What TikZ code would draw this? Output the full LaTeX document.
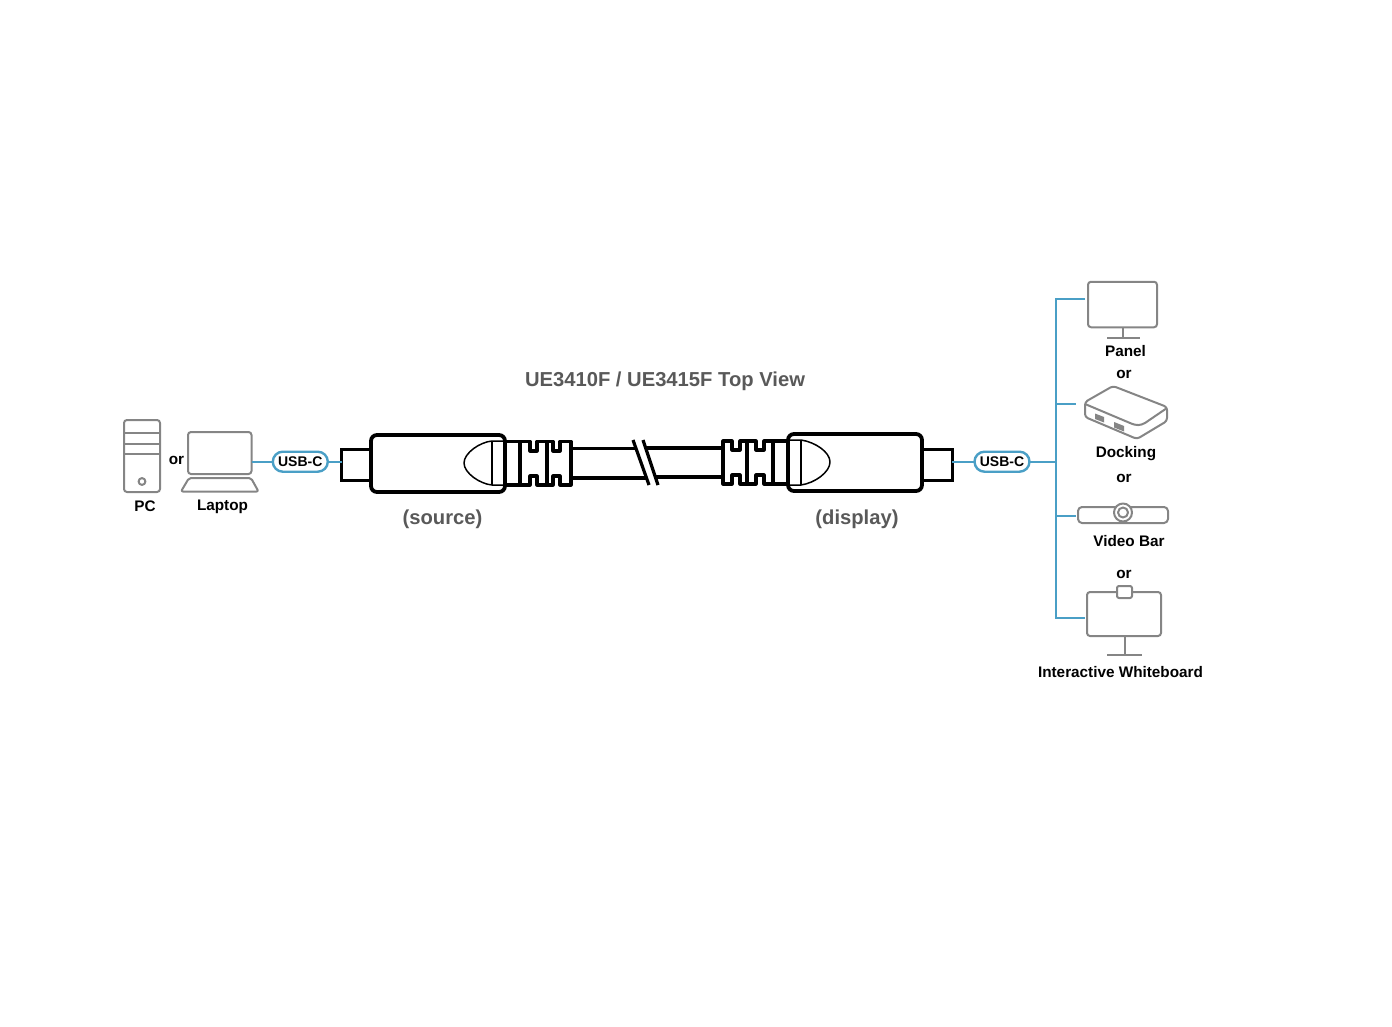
\documentclass[tikz,border=0pt]{standalone}
\usepackage{fontspec}
\setmainfont{Liberation Sans}
\definecolor{linkblue}{HTML}{4A9FC6}
\definecolor{devgray}{HTML}{858585}
\definecolor{capgray}{HTML}{595959}
\tikzset{
  link/.style={draw=linkblue,line width=2.4pt},
  dev/.style={draw=devgray,line width=2pt,line join=round},
  devbox/.style={dev,rounded corners=3pt,inner sep=0pt,outer sep=0pt},
  pill/.style={draw=linkblue,line width=2.4pt,fill=white,rounded corners=10pt,minimum width=55pt,minimum height=20pt,inner sep=0pt,outer sep=0pt,font=\bfseries\fontsize{14}{15}\selectfont},
  thick line/.style={draw=black,line width=3.2pt,line join=round},
  cablebody/.style={draw=black,line width=3.8pt,fill=white,rounded corners=6pt,inner sep=0pt,outer sep=0pt},
  plugbody/.style={draw=black,line width=3pt,fill=white,inner sep=0pt,outer sep=0pt},
  thin line/.style={draw=black,line width=1.5pt,line join=round},
  lab/.style={font=\bfseries\fontsize{15.3}{17}\selectfont,inner sep=0pt,text=black},
  captext/.style={font=\bfseries\fontsize{20.2}{22}\selectfont,inner sep=0pt,text=capgray},
}
\begin{document}
\begin{tikzpicture}[x=1pt,y=-1pt]
\useasboundingbox (0,0) rectangle (1392,1027);
% PC
\node[devbox,minimum width=36pt,minimum height=72pt] (pc) at (142,456) {};
\draw[dev] (124,433)--(160,433) (124,443.5)--(160,443.5) (124,454)--(160,454);
\draw[dev] (142,481.5) circle (3.4pt);
% Laptop
\node[devbox,minimum width=63.5pt,minimum height=42pt] (laptop) at (219.75,453) {};
\draw[dev,rounded corners=2pt] (189,478)--(251,478)--(258.5,491.5)--(181,491.5)--cycle;
% Pills
\node[pill] (usbL) at (300.3,461.7) {USB-C};
\node[pill] (usbR) at (1002,461.7) {USB-C};
% Plugs
\node[plugbody,minimum width=30pt,minimum height=31pt] (plugL) at (356.5,464.5) {};
\node[plugbody,minimum width=30pt,minimum height=31pt] (plugR) at (937,464.5) {};
\draw[link] (laptop.east |- usbL.west) -- (usbL.west);
\draw[link] (usbL.east) -- (plugL.west |- usbL.east);
\draw[link] (plugR.east |- usbR.west) -- (usbR.west);
% Cable
\draw[thick line] (571,448.5)--(649,448.5) (571,478)--(649,478);
\draw[thick line] (645,448)--(723,448) (650,477)--(723,477);
\fill[white] (633,440) -- (643,440) -- (658,485) -- (649,485) -- cycle;
\draw[thick line] (633,440)--(649,485) (643,440)--(658,485);
% Left boot
\draw[thick line,fill=white] (505,441.5)--(530,441.5)--(530,451)--(537,451)--(537,441.5)--(553,441.5)--(553,451)--(560,451)--(560,441.5)--(571,441.5)--(571,485)--(560,485)--(560,476)--(553,476)--(553,485)--(537,485)--(537,476)--(530,476)--(530,485)--(505,485);
\draw[thick line] (520,441.5)--(520,485) (547,441.5)--(547,485);
% Right boot
\draw[thick line,fill=white] (788,441)--(764,441)--(764,450)--(756,450)--(756,441)--(740,441)--(740,450)--(732,450)--(732,441)--(723,441)--(723,484)--(732,484)--(732,475)--(740,475)--(740,484)--(756,484)--(756,475)--(764,475)--(764,484)--(788,484);
\draw[thick line] (747,441)--(747,484) (773,441)--(773,484);
% Bodies
\node[cablebody,minimum width=134pt,minimum height=57pt] (bodyL) at (438,463.5) {};
\node[cablebody,minimum width=134pt,minimum height=57pt] (bodyR) at (855,462.5) {};
\draw[thin line] (505,441) -- (492,441) .. controls (480,442) and (464,453) .. (464,463) .. controls (464,473) and (480,484) .. (492,485) -- (505,485);
\draw[thin line] (492,441)--(492,485);
\draw[thin line] (788,440) -- (801,440) .. controls (815,442) and (830,452) .. (830,462) .. controls (830,472) and (815,483) .. (801,485) -- (788,485);
\draw[thin line] (801,440)--(801,485);
% Right devices
\node[devbox,minimum width=69pt,minimum height=45.5pt] (panel) at (1122.5,304.5) {};
\draw[dev] (1123,327.5)--(1123,337) (1107,337.5)--(1140,337.5);
\draw[dev,fill=white,rounded corners=3pt] (1085,402)--(1113,386)--(1167,407)--(1167,421)--(1137,439)--(1085,417)--cycle;
\draw[dev] (1085,404) -- (1130,423) .. controls (1137,426) and (1140,425.5) .. (1145,423) -- (1167,408);
\fill[devgray] (1095,413.5)--(1104,417)--(1104,422.5)--(1095,419)--cycle;
\fill[devgray] (1114,422)--(1124,426)--(1124,431.5)--(1114,427.5)--cycle;
\node[devbox,minimum width=90pt,minimum height=16pt,rounded corners=4pt] (bar) at (1123,515) {};
\draw[dev,fill=white] (1123,512.5) circle (9pt);
\draw[dev] (1123,512.5) circle (5pt);
\node[devbox,minimum width=74pt,minimum height=44pt] (board) at (1124,614) {};
\node[devbox,fill=white,minimum width=15pt,minimum height=12pt,rounded corners=2pt] (cam) at (1124.5,592) {};
\draw[dev] (1124.5,636)--(1124.5,654) (1107,654.5)--(1142,654.5);
% Tree
\coordinate (trunkT) at (1056,299);
\coordinate (trunkB) at (1056,618);
\coordinate (t1) at (1085,299);
\coordinate (t2) at (1076,404);
\coordinate (t3) at (1076,516);
\coordinate (t4) at (1085,618);
\draw[link] (usbR.east) -- (usbR.east -| trunkT);
\draw[link,line join=miter] (t1) -- (trunkT) -- (trunkB) -- (t4);
\draw[link] (trunkT |- t2) -- (t2);
\draw[link] (trunkT |- t3) -- (t3);
% Labels
\node[captext] (title) at (665,381) {UE3410F / UE3415F Top View};
\node[captext] (src) at (442.5,519) {(source)};
\node[captext] (dsp) at (857,519) {(display)};
\node[lab] (lpc) at (145,506) {PC};
\node[lab] (lor1) at (176.5,460.5) {or};
\node[lab] (llap) at (222.5,507) {Laptop};
\node[lab] (lpan) at (1125.5,351) {Panel};
\node[lab] (lor2) at (1124,374) {or};
\node[lab] (ldoc) at (1126,453.5) {Docking};
\node[lab] (lor3) at (1124,478) {or};
\node[lab] (lbar) at (1129,541) {Video Bar};
\node[lab] (lor4) at (1124,574) {or};
\node[lab] (lwb) at (1120.5,672) {Interactive Whiteboard};
\end{tikzpicture}
\end{document}
